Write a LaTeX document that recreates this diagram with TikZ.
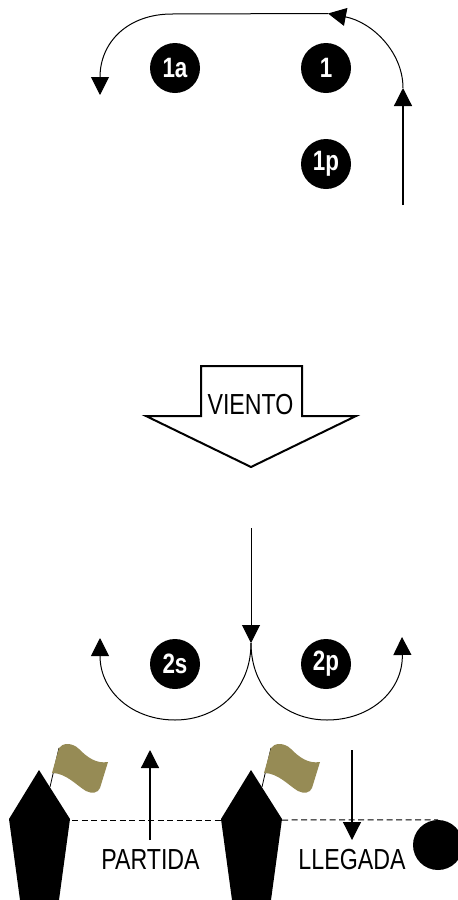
\documentclass[tikz,border=0pt]{standalone}
\usepackage{fontspec}
\setmainfont[FakeStretch=0.80]{Liberation Sans}
\usetikzlibrary{arrows.meta}
\definecolor{flagc}{HTML}{968B55}
\tikzstyle{mk}=[circle,fill=black,text=white,inner sep=0pt,minimum size=50pt,font=\fontsize{28}{28}\selectfont\bfseries]
\tikzstyle{lab}=[inner sep=0pt,font=\fontsize{29}{29}\selectfont]
\tikzstyle{rt}=[line width=1pt]
\begin{document}
\begin{tikzpicture}
[x=1pt,y=-1pt,>={Triangle[length=18pt,width=18pt]}]
\useasboundingbox (0,0) rectangle (458,900);
\node[mk] (1a) at (175,68) {1a};
\node[mk] (1) at (326,68) {1};
\node[mk] (1p) at (326,164) {1p};
\node[mk] (2s) at (175,664) {2s};
\node[mk] (2p) at (326,664) {2p};
% first leg
\coordinate (a0) at (403,205);
\coordinate (a1) at (403,88);
\coordinate (a2) at (328,13.5);
\coordinate (a3) at (172,14);
\coordinate (a4) at (100,95);
\draw[rt,line width=1.2pt,->] (a0) -- (a1);
\draw[rt,->] (a1) .. controls (403,52) and (372,22) .. (a2);
\draw[rt] (a2) -- (a3);
\draw[rt,->] (a3) .. controls (128,14) and (100,42) .. (a4);
% wind
\draw[line width=2pt,miter limit=10,fill=white] (201,366) -- (302,366) -- (302,416) -- (356,416) -- (251,467) -- (146,416) -- (201,416) -- cycle;
\node[lab] (vi) at (250.5,405) {VIENTO};
% second leg
\coordinate (b0) at (251,528);
\coordinate (b1) at (251,643);
\coordinate (b2) at (175,720);
\coordinate (b3) at (100,638);
\coordinate (b4) at (327,720);
\coordinate (b5) at (402,637);
\draw[rt,->] (b0) -- (b1);
\draw[rt] (b1) .. controls (251,690) and (217,720) .. (b2);
\draw[rt,->] (b2) .. controls (133,720) and (100,692) .. (b3);
\draw[rt] (b1) .. controls (251,690) and (285,720) .. (b4);
\draw[rt,->] (b4) .. controls (369,720) and (403,692) .. (b5);
% buoys
\foreach \bx in {0,212}{
\begin{scope}[xshift=\bx pt]
\draw[line width=0.8pt] (50,787) -- (59,748);
\fill[flagc] (59,748) .. controls (62,743) and (72,742) .. (79,749) .. controls (87,757) and (96,764) .. (108,762) -- (100,788) .. controls (98,793) and (92,794) .. (86,791) .. controls (76,785) and (66,773) .. (52,773) -- cycle;
\fill (39,770) -- (70,819) -- (59,900) -- (20,900) -- (9,819) -- cycle;
\end{scope}
}
\node[circle,fill=black,inner sep=0pt,minimum size=50pt] (fin) at (438,845) {};
\coordinate (d0) at (72,820);
\coordinate (d1) at (221,820);
\coordinate (d2) at (282,820);
\draw[rt,dash pattern=on 6pt off 3.5pt] (d0) -- (d1);
\draw[rt,dash pattern=on 6pt off 3.5pt] (d2) -- (fin.north);
% start and finish
\node[lab] (pa) at (150.5,860) {PARTIDA};
\node[lab] (ll) at (352,860) {LLEGADA};
\coordinate (c0) at (150,840);
\coordinate (c1) at (150,750);
\coordinate (c2) at (352,750);
\coordinate (c3) at (352,840);
\draw[rt,line width=1.2pt,->] (c0) -- (c1);
\draw[rt,line width=1.2pt,->] (c2) -- (c3);
\end{tikzpicture}
\end{document}
